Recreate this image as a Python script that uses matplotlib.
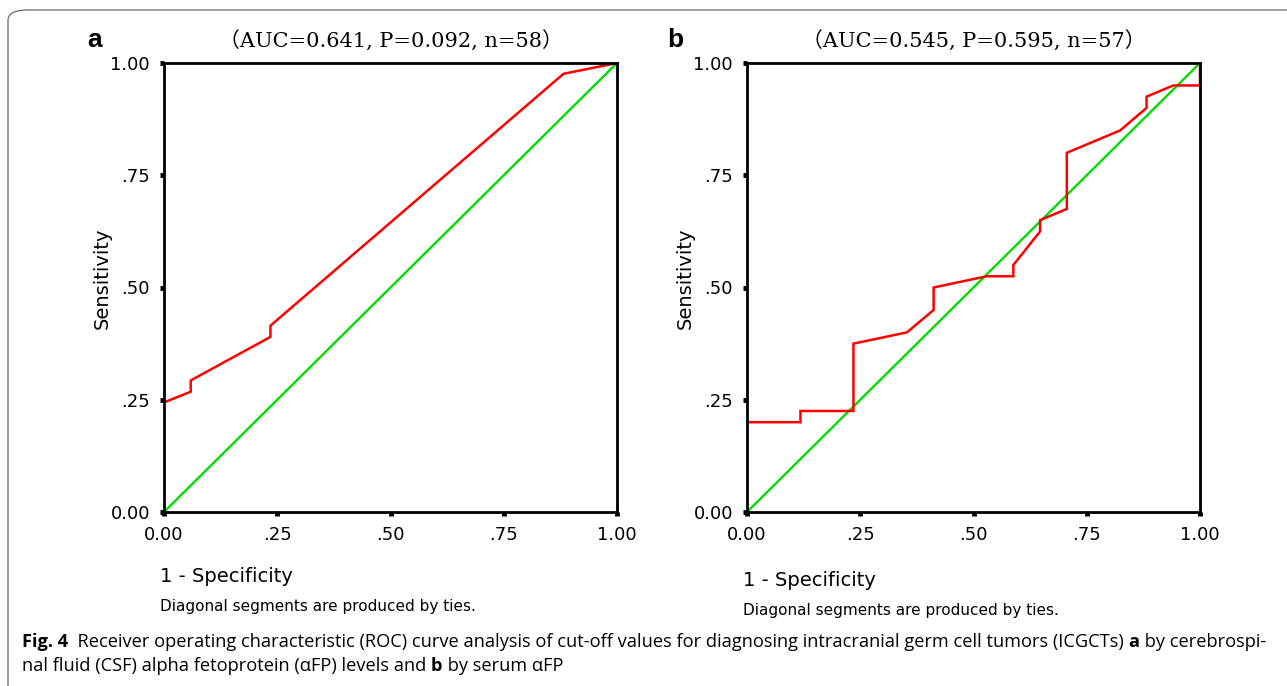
import matplotlib
matplotlib.use("Agg")
import matplotlib.pyplot as plt
from matplotlib.patches import FancyBboxPatch

# ---- data ----
ticks = [0.0, 0.25, 0.5, 0.75, 1.0]
tick_labels = ["0.00", ".25", ".50", ".75", "1.00"]

a_fpr = [0.0, 0.059, 0.059, 0.235, 0.235, 0.882, 1.0]
a_tpr = [0.244, 0.268, 0.293, 0.390, 0.415, 0.976, 1.0]

b_fpr = [0.0, 0.118, 0.118, 0.235, 0.235, 0.353, 0.412, 0.412, 0.529, 0.588, 0.588,
         0.647, 0.647, 0.706, 0.706, 0.824, 0.882, 0.882, 0.941, 1.0, 1.0]
b_tpr = [0.200, 0.200, 0.225, 0.225, 0.375, 0.400, 0.450, 0.500, 0.525, 0.525, 0.550,
         0.625, 0.650, 0.675, 0.800, 0.850, 0.900, 0.925, 0.950, 0.950, 1.0]

diag = [0.0, 1.0]

titles = ["（AUC=0.641, P=0.092, n=58）", "（AUC=0.545, P=0.595, n=57）"]
letters = ["a", "b"]

W, H = 1287, 686
fig = plt.figure(figsize=(W / 100, H / 100), dpi=100)

def fx(px):
    return px / W

def fy(py):
    return 1 - py / H

# border
border = FancyBboxPatch((fx(8), fy(720)), fx(1320 - 8), (720 - 10) / H,
                        boxstyle="round,pad=0,rounding_size=0.015",
                        transform=fig.transFigure, fill=False,
                        edgecolor="#777777", linewidth=1.0, clip_on=False)
fig.patches.append(border)

panels = [
    dict(left=164, fpr=a_fpr, tpr=a_tpr, title=titles[0], letter=letters[0], lx=95, xlab_y=577, diag_y=606),
    dict(left=747, fpr=b_fpr, tpr=b_tpr, title=titles[1], letter=letters[1], lx=675, xlab_y=580, diag_y=610),
]
top, bottom, width = 63, 512, 453

for p in panels:
    ax = fig.add_axes([fx(p["left"]), fy(bottom), width / W, (bottom - top) / H])
    ax.plot(diag, diag, color="#00dd00", lw=1.7, solid_capstyle="butt")
    ax.plot(p["fpr"], p["tpr"], color="#ff0000", lw=1.8, solid_joinstyle="miter")
    ax.set_xlim(0, 1)
    ax.set_ylim(0, 1)
    for s in ax.spines.values():
        s.set_linewidth(2.0)
        s.set_color("black")
    ax.set_xticks(ticks)
    ax.set_xticklabels(tick_labels)
    ax.set_yticks(ticks)
    ax.set_yticklabels(tick_labels)
    ax.tick_params(direction="out", length=3, width=3.5, colors="black",
                   labelsize=13, pad=7)
    for lab in ax.get_xticklabels() + ax.get_yticklabels():
        lab.set_fontfamily("DejaVu Sans")
    ax.set_ylabel("Sensitivity", fontsize=14)
    ax.yaxis.set_label_coords(-52 / width, (bottom - 278) / (bottom - top))
    # title
    fig.text(fx(p["left"] + width / 2), fy(40), p["title"], ha="center", va="center",
             fontsize=15, family=["DejaVu Serif", "Noto Sans CJK SC"])
    fig.text(fx(p["lx"]), fy(40), p["letter"], ha="center", va="center",
             fontsize=19, fontweight="bold", family="Liberation Sans")
    fig.text(fx(p["left"] - 4), fy(p["xlab_y"]), "1 - Specificity", ha="left", va="center",
             fontsize=14, family="DejaVu Sans")
    fig.text(fx(p["left"] - 4), fy(p["diag_y"]), "Diagonal segments are produced by ties.",
             ha="left", va="center", fontsize=11, family="DejaVu Sans")

# caption with inline bold pieces
renderer = fig.canvas.get_renderer()

def draw_line(pieces, x0, y):
    x = x0
    for txt, bold in pieces:
        t = fig.text(fx(x), fy(y), txt, ha="left", va="center", fontsize=13.15,
                     family="Open Sans", fontweight="bold" if bold else "normal")
        bb = t.get_window_extent(renderer=renderer)
        x += bb.width

line1 = [("Fig. 4", True),
         ("  Receiver operating characteristic (ROC) curve analysis of cut-off values for diagnosing intracranial germ cell tumors (ICGCTs) ", False),
         ("a", True), (" by cerebrospi-", False)]
line2 = [("nal fluid (CSF) alpha fetoprotein (αFP) levels and ", False), ("b", True), (" by serum αFP", False)]
draw_line(line1, 22, 642)
draw_line(line2, 22, 666)

fig.savefig("out.png", dpi=100)
